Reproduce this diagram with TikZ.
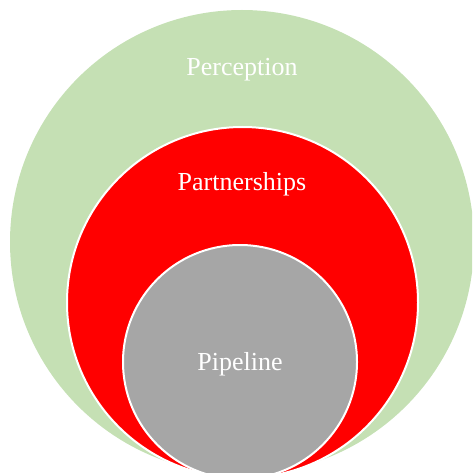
\documentclass[tikz,border=0pt]{standalone}
\usepackage{fontspec}
\setmainfont{Liberation Serif}

\definecolor{perceptgreen}{HTML}{C5E0B4}
\definecolor{partnerred}{HTML}{FF0000}
\definecolor{pipegray}{HTML}{A6A6A6}

\begin{document}
\begin{tikzpicture}[x=1pt, y=-1pt]
        % Define styles
        \tikzset{
            ring/.style={circle, inner sep=0pt},
            label/.style={text=white, font=\fontsize{26}{30}\selectfont}
        }

        \useasboundingbox (0,0) rectangle (472,473);
        \clip (0,0) rectangle (472,473);

        % Circles
        \node[ring, fill=perceptgreen, minimum size=464pt] (perception) at (242,242) {};
        \node[ring, fill=partnerred, draw=white, line width=2pt, minimum size=351pt] (partnerships) at (242.5,302.5) {};
        \node[ring, fill=pipegray, draw=white, line width=2pt, minimum size=234pt] (pipeline) at (240,362) {};

        % Labels
        \node[label] (perception_text) at (242,70) {Perception};
        \node[label] (partnerships_text) at (242,184) {Partnerships};
        \node[label] (pipeline_text) at (240,364) {Pipeline};
\end{tikzpicture}
\end{document}
